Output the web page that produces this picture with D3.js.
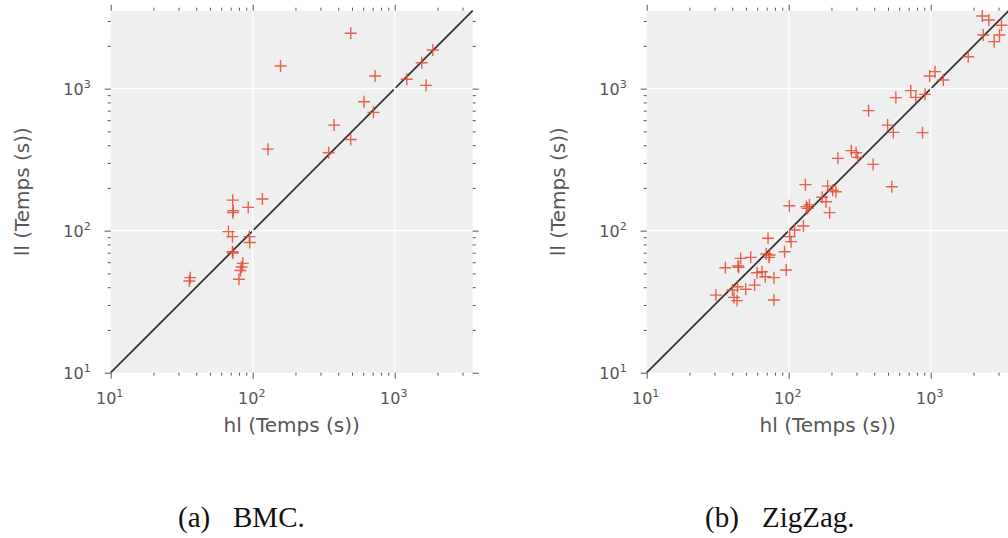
<!DOCTYPE html>
<html>
<head>
<meta charset="utf-8">
<script src="https://cdn.jsdelivr.net/npm/d3@7"></script>
<style>
  body { margin: 0; background: #fff; }
  svg { display: block; }
</style>
</head>
<body>
<svg id="chart" width="1008" height="538"></svg>
<script>
// Solving times (seconds): hl on x, ll on y
const bmcHl = [490, 157, 728, 1854, 1549, 1216, 1663, 608, 708, 374, 490, 343, 128, 117,
  72.3, 93, 73, 72.5, 67.5, 72, 94.7, 95.3, 72, 72.5, 85.1, 83.5, 82, 80, 36.3, 35.8];
const bmcLl = [2455, 1445, 1228, 1871, 1524, 1164, 1055, 809, 681, 554, 439, 354, 375, 167,
  164, 146, 138, 134, 98.5, 90.8, 90.8, 82.5, 71.1, 69.6, 58.9, 55.5, 52.5, 45.5, 46.7, 44.2];

const zigzagHl = [2307, 2566, 3148, 2344, 3048, 2797, 1837,
  984, 1072, 1227, 724, 568, 785, 912,
  365, 497, 545, 875,
  276, 298, 306, 222, 393,
  532, 131, 188, 204, 215, 172, 183, 194,
  101, 133, 140, 136,
  127, 110, 101.4, 104, 71.5, 93.5, 69.5, 73.3, 72.6,
  54, 45.9, 44, 44.4, 35.8, 96, 59.8, 64.9, 68.4, 78.7,
  57.5, 43.6, 49.8, 40.2, 30.7, 41.2, 43.3, 78.7];
const zigzagLl = [3250, 3048, 2795, 2388, 2388, 2143, 1679,
  1228, 1318, 1151, 968, 865, 869, 912,
  700, 554, 492, 490,
  366, 354, 328, 323, 293,
  204, 211, 206, 193, 188, 172, 160, 134,
  150, 147.6, 152, 143.6,
  108, 101, 90.8, 83.7, 88.4, 71.1, 68.5, 67.4, 64.9,
  64.9, 63.8, 56.4, 55.2, 54.8, 52.8, 50.6, 51.4, 47.4, 46.7,
  41.4, 40.3, 38.7, 38.2, 35.2, 33.9, 32.2, 32.5];

const axisMin = 10;
const axisMax = 3540;
const majorTicks = [10, 100, 1000];
const tickExponents = ["1", "2", "3"];
const xTitle = "hl (Temps (s))";
const yTitle = "ll (Temps (s))";
const captionTags = ["(a)", "(b)"];
const captionNames = ["BMC.", "ZigZag."];

const svg = d3.select("#chart");
svg.append("rect").attr("width", 1008).attr("height", 538).attr("fill", "#fff");

const SIZE = 362, TOP = 10.7;
const TEXT = "#555";
const MARK = "#E24A33";

function panel(left, hl, ll, idx, capX, nameX) {
  const x = d3.scaleLog().domain([axisMin, axisMax]).range([0, SIZE]);
  const y = d3.scaleLog().domain([axisMin, axisMax]).range([SIZE, 0]);
  const g = svg.append("g").attr("transform", `translate(${left},${TOP})`);

  g.append("rect").attr("width", SIZE).attr("height", SIZE).attr("fill", "#efefef");

  // identity line
  g.append("line")
    .attr("x1", x(axisMin)).attr("y1", y(axisMin))
    .attr("x2", x(axisMax)).attr("y2", y(axisMax))
    .attr("stroke", "#333").attr("stroke-width", 1.8);

  // white grid at the decades
  g.selectAll("line.gx").data(majorTicks.slice(1)).join("line")
    .attr("x1", d => x(d)).attr("x2", d => x(d)).attr("y1", 0).attr("y2", SIZE)
    .attr("stroke", "#fff").attr("stroke-width", 1.3);
  g.selectAll("line.gy").data(majorTicks.slice(1)).join("line")
    .attr("y1", d => y(d)).attr("y2", d => y(d)).attr("x1", 0).attr("x2", SIZE)
    .attr("stroke", "#fff").attr("stroke-width", 1.3);

  // "+" markers
  const pts = hl.map((v, i) => [v, ll[i]]);
  g.selectAll("path.pt").data(pts).join("path")
    .attr("transform", d => `translate(${x(d[0])},${y(d[1])})`)
    .attr("d", "M-6,0H6M0,-6V6")
    .attr("fill", "none").attr("stroke", MARK).attr("stroke-width", 1.4)
    .attr("stroke-opacity", 0.85);

  // ticks on four sides, outward
  const minor = x.ticks().filter(v => !majorTicks.includes(v));
  const sides = [
    [d3.axisBottom(x), `translate(0,${SIZE})`],
    [d3.axisTop(x), "translate(0,0)"],
    [d3.axisLeft(y), "translate(0,0)"],
    [d3.axisRight(y), `translate(${SIZE},0)`]
  ];
  sides.forEach(([ax, tr]) => {
    [[majorTicks, 6], [minor, 3]].forEach(([vals, len]) => {
      const a = g.append("g").attr("transform", tr)
        .call(ax.tickValues(vals).tickSize(len).tickFormat(""));
      a.select(".domain").remove();
      a.selectAll(".tick line").attr("stroke", TEXT).attr("stroke-width", 1);
      a.selectAll("text").remove();
    });
  });

  // tick labels 10^n
  majorTicks.forEach((v, i) => {
    const tx = g.append("text")
      .attr("x", x(v) - 1).attr("y", SIZE + 31)
      .attr("text-anchor", "middle")
      .attr("font-family", "DejaVu Sans").attr("font-size", 16).attr("fill", TEXT);
    tx.append("tspan").text("10");
    tx.append("tspan").attr("font-size", 11).attr("dy", -7).text(tickExponents[i]);

    const ty = g.append("text")
      .attr("x", -20).attr("y", y(v) + 6.3)
      .attr("text-anchor", "end")
      .attr("font-family", "DejaVu Sans").attr("font-size", 16).attr("fill", TEXT);
    ty.append("tspan").text("10");
    ty.append("tspan").attr("font-size", 11).attr("dy", -7).text(tickExponents[i]);
  });

  // axis titles
  g.append("text")
    .attr("x", SIZE / 2).attr("y", SIZE + 59)
    .attr("text-anchor", "middle")
    .attr("font-family", "DejaVu Sans").attr("font-size", 20).attr("fill", TEXT)
    .text(xTitle);
  g.append("text")
    .attr("transform", `translate(-82,${SIZE / 2}) rotate(-90)`)
    .attr("text-anchor", "middle")
    .attr("font-family", "DejaVu Sans").attr("font-size", 20).attr("fill", TEXT)
    .text(yTitle);

  // sub-figure caption
  svg.append("text").attr("x", capX).attr("y", 527)
    .attr("font-family", "Liberation Serif").attr("font-size", 29).attr("fill", "#111")
    .text(captionTags[idx]);
  svg.append("text").attr("x", nameX).attr("y", 527)
    .attr("font-family", "Liberation Serif").attr("font-size", 29).attr("fill", "#111")
    .text(captionNames[idx]);
}

panel(110.7, bmcHl, bmcLl, 0, 178, 233);
panel(646.7, zigzagHl, zigzagLl, 1, 705, 762);
</script>
</body>
</html>
